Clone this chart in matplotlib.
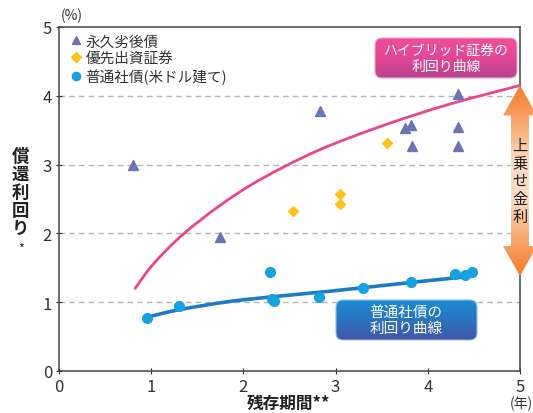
import numpy as np
import matplotlib
matplotlib.use("Agg")
import matplotlib.pyplot as plt
from matplotlib.patches import Polygon, FancyBboxPatch, PathPatch
from matplotlib.path import Path
from matplotlib.colors import to_rgb

plt.rcParams['font.family'] = ['Noto Sans CJK JP', 'DejaVu Sans']

# data (x: years to maturity, y: yield %)
perp_x = [0.80, 1.75, 2.83, 3.75, 3.82, 3.83, 4.33, 4.33, 4.33]
perp_y = [3.00, 1.95, 3.78, 3.53, 3.58, 3.27, 4.03, 3.55, 3.27]

pref_x = [2.54, 3.05, 3.05, 3.56]
pref_y = [2.32, 2.57, 2.43, 3.31]

corp_x = [0.95, 1.30, 2.29, 2.31, 2.33, 2.82, 3.30, 3.82, 4.30, 4.40, 4.48]
corp_y = [0.77, 0.94, 1.44, 1.05, 1.02, 1.08, 1.21, 1.29, 1.41, 1.40, 1.44]

# yield curves
hyb_curve_x = [0.82, 1.02, 1.34, 1.75, 2.18, 2.80, 3.52, 4.24, 5.00]
hyb_curve_y = [1.19, 1.55, 1.98, 2.41, 2.78, 3.20, 3.57, 3.88, 4.15]

corp_curve_x = [0.95, 1.30, 1.85, 2.40, 2.94, 3.84, 4.49]
corp_curve_y = [0.78, 0.89, 1.01, 1.09, 1.16, 1.29, 1.38]

labels = ['永久劣後債', '優先出資証券', '普通社債(米ドル建て)']
text_col = '#333333'

fig = plt.figure(figsize=(5.33, 4.14), dpi=100)
W, H = 533, 414
ax = fig.add_axes([59 / W, 42 / H, 461 / W, 344 / H])

ax.set_xlim(0, 5)
ax.set_ylim(0, 5)
ax.set_xticks(range(6))
ax.set_yticks(range(6))
ax.tick_params(labelsize=12, colors=text_col, direction='inout', length=4, pad=3)
for s in ax.spines.values():
    s.set_color('#444444')
    s.set_linewidth(1.1)

for yv in [1, 2, 3, 4]:
    ax.axhline(yv, color='#b5b5b5', lw=1, dashes=(4, 3), zorder=0)


def smooth_curve(xs, ys, **kw):
    # draw a smooth curve through the read points (Catmull-Rom as cubic Bezier)
    p = np.column_stack([xs, ys])
    verts = [p[0]]
    codes = [Path.MOVETO]
    n = len(p)
    for i in range(n - 1):
        p0 = p[i - 1] if i > 0 else p[i]
        p1, p2 = p[i], p[i + 1]
        p3 = p[i + 2] if i + 2 < n else p[i + 1]
        verts += [p1 + (p2 - p0) / 6, p2 - (p3 - p1) / 6, p2]
        codes += [Path.CURVE4] * 3
    ax.add_patch(PathPatch(Path(verts, codes), fill=False, **kw))


smooth_curve(hyb_curve_x, hyb_curve_y, edgecolor='#e9468f', lw=2.0, zorder=3, capstyle='butt')
smooth_curve(corp_curve_x, corp_curve_y, edgecolor='#1f7cc2', lw=2.6, zorder=3)

h1, = ax.plot(perp_x, perp_y, '^', color='#6b76ae', ms=7, ls='none', zorder=4)
h2, = ax.plot(pref_x, pref_y, 'D', color='#fbc31c', ms=5.5, ls='none', zorder=4)
h3, = ax.plot(corp_x, corp_y, 'o', color='#16a2de', ms=7, ls='none', zorder=4)

leg = ax.legend([h1, h2, h3], labels, loc='upper left', bbox_to_anchor=(0.026, 0.978),
                borderaxespad=0, borderpad=0, frameon=False, handlelength=0.7,
                handletextpad=0.3, labelspacing=0.2, fontsize=10.5, markerscale=0.85)
for t in leg.get_texts():
    t.set_color(text_col)

# overlay in pixel coordinates for callouts
ov = fig.add_axes([0, 0, 1, 1], facecolor='none')
ov.set_xlim(0, W)
ov.set_ylim(0, H)
ov.axis('off')


def grad_fill(patch, colors, extent):
    ov.add_patch(patch)
    n = 200
    pos = np.linspace(0, 1, n)
    stops = np.linspace(0, 1, len(colors))
    rgb = np.array([to_rgb(c) for c in colors])
    arr = np.stack([np.interp(pos, stops, rgb[:, k]) for k in range(3)], axis=1)
    img = ov.imshow(arr[:, None, :], extent=extent, origin='upper', aspect='auto', zorder=5)
    img.set_clip_path(patch)


# pink callout box
pb = FancyBboxPatch((375, 335), 142, 40, boxstyle='round,pad=0,rounding_size=7',
                    facecolor='none', edgecolor='#f4a6c8', lw=0.8, zorder=6)
grad_fill(pb, ['#f04f99', '#e24795', '#b6448f'], [375, 517, 335, 375])
ov.text(446, 355, 'ハイブリッド証券の\n利回り曲線', color='white', fontsize=10,
        ha='center', va='center', linespacing=1.25, zorder=7)

# blue callout box
bb = FancyBboxPatch((336, 73), 141, 40, boxstyle='round,pad=0,rounding_size=7',
                    facecolor='none', edgecolor='#8fc0e6', lw=0.8, zorder=6)
grad_fill(bb, ['#1a8cd2', '#2a74bf', '#4356a6'], [336, 477, 73, 113])
ov.text(406, 93, '普通社債の\n利回り曲線', color='white', fontsize=10.5,
        ha='center', va='center', linespacing=1.25, zorder=7)

# double arrow between the two curve ends at x = 5
xc, yt = ax.transData.transform((hyb_curve_x[-1], hyb_curve_y[-1]))
_, yb = ax.transData.transform((hyb_curve_x[-1], corp_curve_y[-1]))
hw, bw, hl = 17, 9, 30
pts = [(xc, yt), (xc + hw, yt - hl), (xc + bw, yt - hl), (xc + bw, yb + hl), (xc + hw, yb + hl),
       (xc, yb), (xc - hw, yb + hl), (xc - bw, yb + hl), (xc - bw, yt - hl), (xc - hw, yt - hl)]
arrow = Polygon(pts, closed=True, facecolor='none', edgecolor='none', zorder=6)
grad_fill(arrow, ['#f47a2a', '#f8a96e', '#fcdcc4', '#fcdcc4', '#f8a96e', '#f47a2a'],
          [xc - hw, xc + hw, yb, yt])
ov.text(xc, (yt + yb) / 2, '上\n乗\nせ\n金\n利', color='#222222', fontsize=11,
        ha='center', va='center', linespacing=1.05, zorder=7)

# axis titles
ov.text(20, 221, '償\n還\n利\n回\nり', color='#222222', fontsize=12.5, fontweight='bold',
        ha='center', va='center', linespacing=1.0)
ov.text(21, 165, '*', color='#222222', fontsize=9, ha='center', va='center')
ov.text(289, 10, '残存期間**', color='#222222', fontsize=12, fontweight='bold',
        ha='center', va='center')
ov.text(72, 398, '(%)', color=text_col, fontsize=10, ha='center', va='center')
ov.text(521, 10, '(年)', color=text_col, fontsize=10, ha='center', va='center')

fig.savefig('out.png', dpi=100)
